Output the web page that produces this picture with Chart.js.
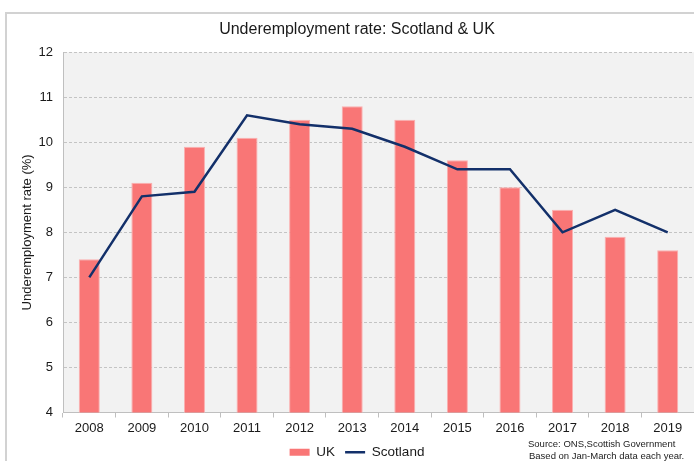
<!DOCTYPE html>
<html>
<head>
<meta charset="utf-8">
<script src="https://cdn.jsdelivr.net/npm/chart.js@4/dist/chart.umd.min.js"></script>
<style>
  html, body { margin: 0; padding: 0; background: #ffffff; }
  #wrap { width: 694px; height: 461px; position: relative; }
</style>
</head>
<body>
<div id="wrap"><canvas id="grafico" width="694" height="461"></canvas></div>
<script>
// Datos del gráfico
const anios = ['2008', '2009', '2010', '2011', '2012', '2013', '2014', '2015', '2016', '2017', '2018', '2019'];
const tasaUK = [7.4, 9.1, 9.9, 10.1, 10.5, 10.8, 10.5, 9.6, 9.0, 8.5, 7.9, 7.6];
const tasaEscocia = [7.0, 8.8, 8.9, 10.6, 10.4, 10.3, 9.9, 9.4, 9.4, 8.0, 8.5, 8.0];
const ejeY = { min: 4, max: 12, paso: 1 };
const titulo = 'Underemployment rate: Scotland & UK';
const tituloEjeY = 'Underemployment rate (%)';
const notaFuente = ['Source: ONS,Scottish Government', 'Based on Jan-March data each year.'];

const fuente = "'Liberation Sans', Arial, sans-serif";

// Marco exterior, fondo del área de trazado y nota de fuente
const decoracion = {
    id: 'decoracion',
    beforeDraw(chart) {
        const ctx = chart.ctx;
        const area = chart.chartArea;
        ctx.save();
        ctx.fillStyle = '#ffffff';
        ctx.fillRect(0, 0, chart.width, chart.height);
        ctx.strokeStyle = '#d2d2d2';
        ctx.lineWidth = 2;
        ctx.strokeRect(6, 13, chart.width + 20, chart.height + 20);
        ctx.fillStyle = '#f2f2f2';
        ctx.fillRect(area.left, area.top, area.right - area.left, area.bottom - area.top);
        ctx.restore();
    },
    afterDraw(chart) {
        const ctx = chart.ctx;
        ctx.save();
        ctx.fillStyle = '#222222';
        ctx.font = '9.5px ' + fuente;
        ctx.textBaseline = 'middle';
        ctx.fillText(notaFuente[0], 528, 444);
        ctx.fillText(notaFuente[1], 529, 456);
        ctx.restore();
    }
};

const ctx = document.getElementById('grafico').getContext('2d');
new Chart(ctx, {
    type: 'bar',
    data: {
        labels: anios,
        datasets: [
            {
                type: 'bar',
                label: 'UK',
                data: tasaUK,
                backgroundColor: '#f97676',
                borderColor: '#fbb0b0',
                borderWidth: 1,
                categoryPercentage: 1,
                barPercentage: 0.4,
                order: 2
            },
            {
                type: 'line',
                label: 'Scotland',
                data: tasaEscocia,
                borderColor: '#13306a',
                backgroundColor: '#13306a',
                borderWidth: 2.5,
                pointRadius: 0,
                tension: 0,
                order: 1
            }
        ]
    },
    options: {
        responsive: false,
        animation: false,
        layout: { padding: { left: 20, right: 0, top: 0, bottom: -8 } },
        plugins: {
            title: {
                display: true,
                text: titulo,
                color: '#1a1a1a',
                font: { family: fuente, size: 16, weight: 'normal' },
                padding: { top: 20, bottom: 13 }
            },
            legend: {
                position: 'bottom',
                labels: {
                    color: '#1a1a1a',
                    font: { family: fuente, size: 13.5 },
                    usePointStyle: true,
                    boxHeight: 7,
                    pointStyleWidth: 20,
                    padding: 10,
                    generateLabels(chart) {
                        return chart.data.datasets.map((ds, i) => ({
                            text: ds.label,
                            datasetIndex: i,
                            fillStyle: ds.backgroundColor,
                            strokeStyle: ds.type === 'line' ? ds.borderColor : ds.backgroundColor,
                            lineWidth: ds.type === 'line' ? 2.5 : 0,
                            pointStyle: ds.type === 'line' ? 'line' : 'rect',
                            fontColor: '#1a1a1a'
                        }));
                    }
                }
            },
            tooltip: { enabled: false }
        },
        scales: {
            x: {
                offset: true,
                grid: {
                    offset: true,
                    drawOnChartArea: false,
                    drawTicks: true,
                    tickLength: 5,
                    color: '#bfbfbf'
                },
                border: { display: true, color: '#bfbfbf' },
                ticks: {
                    color: '#1a1a1a',
                    font: { family: fuente, size: 13 },
                    padding: 3,
                    maxRotation: 0
                },
                afterFit(scale) { scale.height = 23; }
            },
            y: {
                min: ejeY.min,
                max: ejeY.max,
                ticks: {
                    stepSize: ejeY.paso,
                    color: '#1a1a1a',
                    font: { family: fuente, size: 13 },
                    padding: 10
                },
                grid: {
                    color: '#c4c4c4',
                    drawTicks: false
                },
                // en v4 "dash" de border discontinúa las líneas de la rejilla
                border: { display: true, color: '#bfbfbf', dash: [3, 2] },
                title: {
                    display: true,
                    text: tituloEjeY,
                    color: '#1a1a1a',
                    font: { family: fuente, size: 13 },
                    padding: { top: 0, bottom: 0 }
                },
                afterFit(scale) { scale.width = 43; }
            }
        }
    },
    plugins: [decoracion]
});
</script>
</body>
</html>
